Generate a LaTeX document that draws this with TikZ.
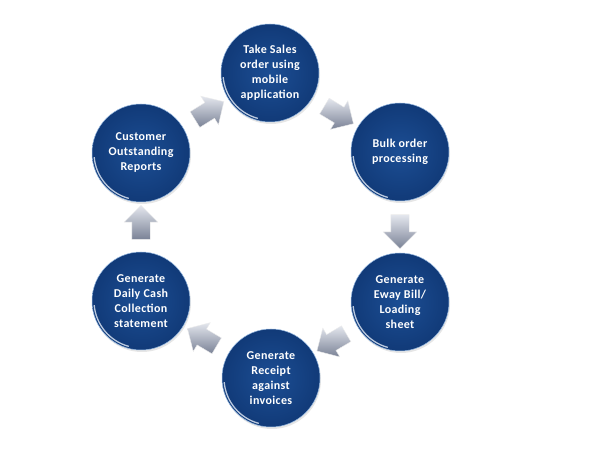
\documentclass[tikz,border=0pt]{standalone}
\usepackage{fontspec}
\setmainfont{Carlito}[LetterSpace=3]
\usetikzlibrary{shapes.arrows,shadows}

\definecolor{stepblue}{RGB}{17,58,120}
\definecolor{steplight}{RGB}{28,78,148}
\definecolor{steprim}{RGB}{150,185,225}
\definecolor{arrowlight}{RGB}{228,231,238}
\definecolor{arrowdark}{RGB}{122,130,150}

\tikzset{
  stepball/.style={circle, minimum size=98pt, inner sep=0pt, align=center,
    text=white, font=\bfseries\fontsize{12}{15}\selectfont,
    inner color=steplight, outer color=stepblue, draw=steprim, line width=0.5pt,
    drop shadow={opacity=0.2, shadow xshift=1pt, shadow yshift=-2pt},
    path picture={\draw[white!75!steprim, line width=1.3pt, opacity=0.8]
      ([shift={(185:47pt)}]path picture bounding box.center)
      arc[start angle=185, end angle=255, radius=47pt];}},
  flowarrow/.style={single arrow, sloped, allow upside down,
    minimum height=34pt, minimum width=33pt, inner sep=9pt,
    single arrow head extend=7.5pt, top color=arrowlight, bottom color=arrowdark,
    draw=white!85!gray, line width=0.4pt}
}

\begin{document}
\begin{tikzpicture}[x=1pt, y=1pt]
  \useasboundingbox (0,0) rectangle (598,453);

  \node[stepball] (t) at (270,380) {Take Sales\\order using\\mobile\\application};
  \node[stepball] (rt) at (400,301) {Bulk order\\processing};
  \node[stepball] (rb) at (400,151) {Generate\\Eway Bill/\\Loading\\sheet};
  \node[stepball] (b) at (271,75) {Generate\\Receipt\\against\\invoices};
  \node[stepball] (lb) at (141,152) {Generate\\Daily Cash\\Collection\\statement};
  \node[stepball] (lt) at (141,300) {Customer\\Outstanding\\Reports};

  \path (t) -- node[flowarrow] (a1) {} (rt);
  \path (rt) -- node[flowarrow] (a2) {} (rb);
  \path (rb) -- node[flowarrow] (a3) {} (b);
  \path (b) -- node[flowarrow] (a4) {} (lb);
  \path (lb) -- node[flowarrow] (a5) {} (lt);
  \path (lt) -- node[flowarrow] (a6) {} (t);

\end{tikzpicture}
\end{document}
